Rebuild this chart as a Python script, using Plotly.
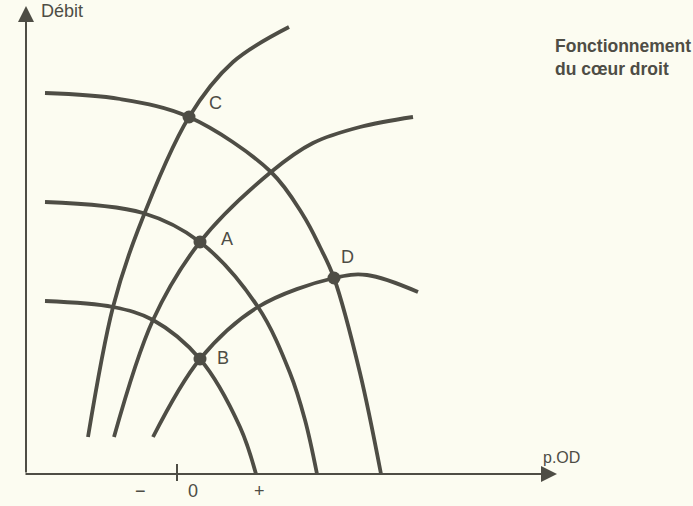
import plotly.graph_objects as go

# courbes de retour veineux (descendantes) - unites arbitraires
vr_top_x = [-132, -57, 12, 94, 126, 143, 157, 183, 204]
vr_top_y = [381, 375, 357, 302, 259, 227, 196, 101, 0]
vr_mid_x = [-132, -34, 23, 81, 113, 128, 140]
vr_mid_y = [272, 261, 232, 167, 101, 54, 0]
vr_bot_x = [-132, -64, -24, 23, 63, 79]
vr_bot_y = [173, 167, 154, 115, 47, 0]

# courbes de fonction cardiaque (ascendantes)
cf_top_x = [-89, -64, -39, 12, 56, 112]
cf_top_y = [37, 167, 244, 357, 412, 447]
cf_mid_x = [-63, -24, 23, 94, 136, 183, 236]
cf_mid_y = [37, 154, 232, 302, 331, 347, 357]
cf_bot_x = [-24, 23, 81, 157, 190, 241]
cf_bot_y = [37, 115, 167, 196, 199, 182]

# points d'equilibre
pt_labels = ["C", "A", "B", "D"]
pt_x = [12, 23, 23, 157]
pt_y = [357, 232, 115, 196]

tick_labels = ["\u2212", "0", "+"]
tick_x = [-37, 16, 82]

ink = "#4e4d45"
paper = "#fcfcf1"
font = "Liberation Sans"

fig = go.Figure()

for xs, ys in [(vr_top_x, vr_top_y), (vr_mid_x, vr_mid_y), (vr_bot_x, vr_bot_y),
               (cf_top_x, cf_top_y), (cf_mid_x, cf_mid_y), (cf_bot_x, cf_bot_y)]:
    fig.add_trace(go.Scatter(x=xs, y=ys, mode="lines",
                             line=dict(color=ink, width=3.8, shape="spline", smoothing=1.0),
                             hoverinfo="skip"))

fig.add_trace(go.Scatter(x=pt_x, y=pt_y, mode="markers",
                         marker=dict(size=13, color=ink), hoverinfo="skip"))

label_dx = [26, 27, 23, 13]
label_dy = [14, 3, 1, 21]
for lab, x, y, dx, dy in zip(pt_labels, pt_x, pt_y, label_dx, label_dy):
    fig.add_annotation(x=x + dx, y=y + dy, text=lab, showarrow=False,
                       font=dict(family=font, size=18, color=ink))

# axes avec fleches
fig.add_annotation(x=-151, y=468, ax=-151, ay=0, xref="x", yref="y", axref="x", ayref="y",
                   text="", showarrow=True, arrowhead=2, arrowsize=1.6, arrowwidth=2,
                   arrowcolor=ink)
fig.add_annotation(x=380, y=0, ax=-153, ay=0, xref="x", yref="y", axref="x", ayref="y",
                   text="", showarrow=True, arrowhead=2, arrowsize=1.6, arrowwidth=2,
                   arrowcolor=ink)
fig.add_shape(type="line", x0=0, x1=0, y0=-7, y1=10, line=dict(color=ink, width=2))

for lab, x in zip(tick_labels, tick_x):
    fig.add_annotation(x=x, y=-17, text=lab, showarrow=False,
                       font=dict(family=font, size=18, color=ink))

fig.add_annotation(x=-115, y=463, text="D\u00e9bit", showarrow=False,
                   font=dict(family=font, size=18, color=ink))
fig.add_annotation(x=384, y=17, text="p.OD", showarrow=False,
                   font=dict(family=font, size=16, color=ink))
fig.add_annotation(x=376, y=417, text="<b>Fonctionnement<br>du c\u0153ur droit</b>",
                   showarrow=False, xanchor="left", align="left",
                   font=dict(family=font, size=17.5, color=ink))

fig.update_layout(
    width=693, height=506,
    margin=dict(l=0, r=0, t=0, b=0),
    paper_bgcolor=paper, plot_bgcolor=paper,
    showlegend=False,
    xaxis=dict(range=[-177, 516], visible=False, fixedrange=True),
    yaxis=dict(range=[-32, 474], visible=False, fixedrange=True),
)

fig.write_html("out.html", config={"displayModeBar": False},
               post_script="document.body.style.margin='0px';")
